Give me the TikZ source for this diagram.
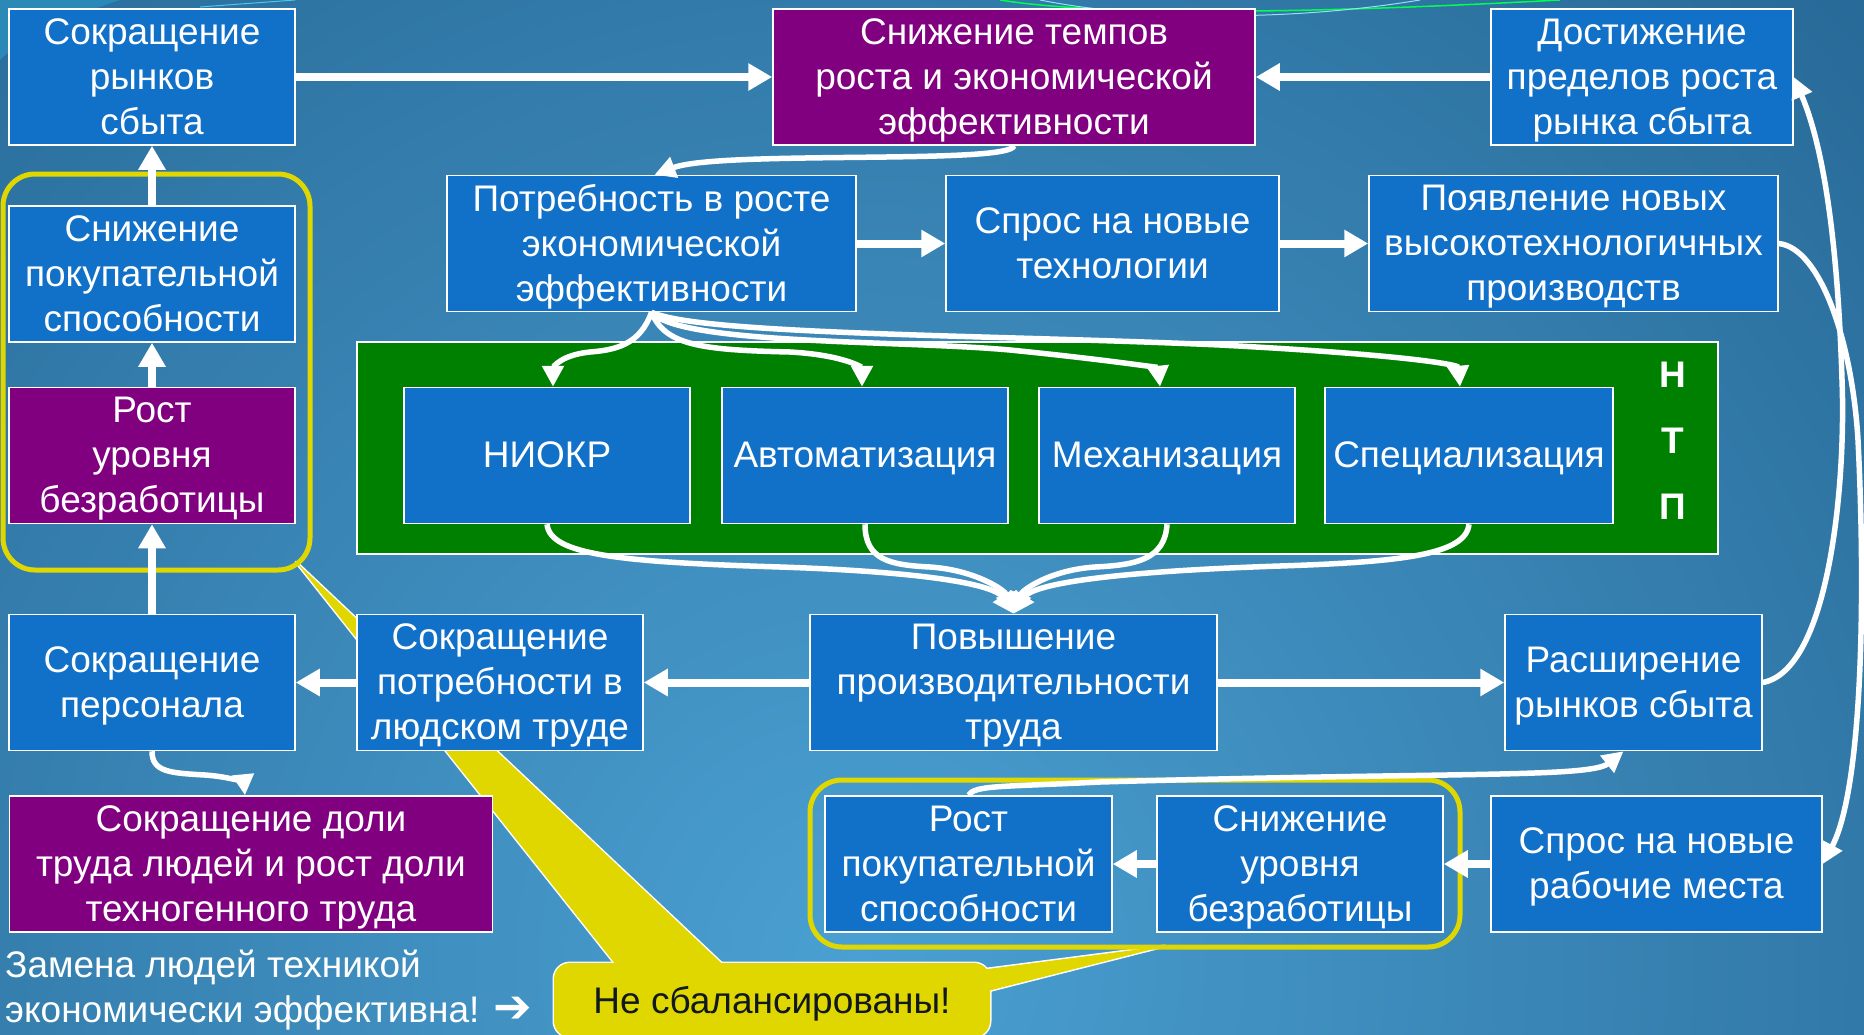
\documentclass[tikz,border=0pt]{standalone}
\usepackage{fontspec}
\setmainfont{Liberation Sans}
\newfontfamily\arrowfont{DejaVu Sans}
\usetikzlibrary{arrows.meta,positioning}

\definecolor{boxblue}{RGB}{17,112,199}
\definecolor{boxpurple}{RGB}{128,0,128}
\definecolor{ntpgreen}{RGB}{0,128,0}
\definecolor{markyellow}{RGB}{224,215,0}
\definecolor{bgdark}{RGB}{22,78,122}
\definecolor{bglight}{RGB}{74,160,210}
\definecolor{calltext}{RGB}{16,24,32}
\newcommand{\boxfont}{\fontsize{37}{45}\selectfont}

\begin{document}
\begin{tikzpicture}[x=1pt, y=-1pt,
    blue-box/.style={draw=white, line width=1.5pt, fill=boxblue, text=white, align=center,
      inner sep=0pt, minimum height=136pt, font=\boxfont, text depth=1pt},
    purple-box/.style={blue-box, fill=boxpurple},
    thick-arr/.style={draw=white, line width=8pt, -{Triangle[length=24pt,width=26pt]}},
    curve-arr/.style={draw=white, line width=5.5pt, -{Triangle[length=21pt,width=21pt]}},
    yel-frame/.style={draw=markyellow, line width=5pt, rounded corners=32pt}
  ]

\useasboundingbox (0,0) rectangle (1864,1034);

% Background
\begin{scope}
  \clip (0,0) rectangle (1864,1034);
  \shade[inner color=bglight, outer color=bgdark] (860,960) circle (2100pt);
  \fill[cyan!60!teal, opacity=0.6] (0,0) -- (120,0) .. controls (60,20) and (20,40) .. (0,60) -- cycle;
  \draw[cyan!70!white, line width=1pt] (200,7) -- (295,0);
  \draw[green!70!cyan, line width=1.5pt] (1000,0) .. controls (1100,16) and (1300,14) .. (1560,0);
  \draw[white!60!cyan, line width=1pt] (1040,0) .. controls (1150,22) and (1300,20) .. (1420,0);
\end{scope}

% Callout "Не сбалансированы!"
\draw[white, line width=3pt, line join=round] (296,562) -- (624,975) -- (734,975) -- cycle;
\draw[white, line width=3pt, line join=round] (980,970) -- (1165,946) -- (980,993) -- cycle;
\node[fill=markyellow, rounded corners=16pt, preaction={draw=white, line width=3pt},
  minimum width=436pt, minimum height=74pt, inner sep=0pt, text=calltext, font=\boxfont]
  (nebal) at (772,1000) {\rule[-7pt]{0pt}{42pt}Не сбалансированы!};
\fill[markyellow] (296,562) -- (624,975) -- (734,975) -- cycle;
\fill[markyellow] (980,970) -- (1165,946) -- (980,993) -- cycle;

% Top row
\node[blue-box, minimum width=286pt] (rynki) at (152,77) {Сокращение\\рынков\\сбыта};
\node[purple-box, minimum width=482pt] (tempy) at (1014,77) {Снижение темпов\\роста и экономической\\эффективности};
\node[blue-box, minimum width=302pt] (predel) at (1642,77) {Достижение\\пределов роста\\рынка сбыта};

% Second row
\node[blue-box, minimum width=409pt] (potreb) at (651.5,243.5) {Потребность в росте\\экономической\\эффективности};
\node[blue-box, minimum width=333pt] (sprosteh) at (1112.5,243.5) {Спрос на новые\\технологии};
\node[blue-box, minimum width=409pt] (poyavl) at (1573.5,243.5) {Появление новых\\высокотехнологичных\\производств};

% NTP panel
\node[draw=white, line width=1.5pt, fill=ntpgreen, minimum width=1361pt, minimum height=212pt] (ntp) at (1037.5,448) {};
\node[blue-box, minimum width=286pt] (niokr) at (547,455.5) {НИОКР};
\node[blue-box, minimum width=286pt] (avtom) at (865,455.5) {Автоматизация};
\node[blue-box, minimum width=256pt] (mehan) at (1167,455.5) {Механизация};
\node[blue-box, minimum width=288pt] (spec) at (1469,455.5) {Специализация};
\foreach \l [count=\i] in {Н,Т,П}
  \node[text=white, font=\boxfont\bfseries] (ntp-\i) at (1673,309+66*\i) {\l};

% Left column
\node[blue-box, minimum width=286pt] (pokup) at (152,274) {Снижение\\покупательной\\способности};
\node[purple-box, minimum width=286pt] (bezrab) at (152,455.5) {Рост\\уровня\\безработицы};

% Third row
\node[blue-box, minimum width=286pt] (personal) at (152,682.5) {Сокращение\\персонала};
\node[blue-box, minimum width=286pt] (trud) at (500,682.5) {Сокращение\\потребности в\\людском труде};
\node[blue-box, minimum width=407pt] (proizv) at (1013.5,682.5) {Повышение\\производительности\\труда};
\node[blue-box, minimum width=257pt] (rassh) at (1633.5,682.5) {Расширение\\рынков сбыта};

% Bottom row
\node[purple-box, minimum width=483pt] (dolya) at (251,864) {Сокращение доли\\труда людей и рост доли\\техногенного труда};
\node[blue-box, minimum width=287pt] (rostpok) at (968.5,864) {Рост\\покупательной\\способности};
\node[blue-box, minimum width=286pt] (snbez) at (1300,864) {Снижение\\уровня\\безработицы};
\node[blue-box, minimum width=331pt] (mesta) at (1656.5,864) {Спрос на новые\\рабочие места};

% Yellow frames
\draw[yel-frame] (3,174) rectangle (310,570);
\draw[yel-frame] (810,780) rectangle (1460,947);

% Straight arrows
\draw[thick-arr] (rynki.east) -- (tempy.west);
\draw[thick-arr] (predel.west) -- (tempy.east);
\draw[thick-arr] (potreb.east) -- (sprosteh.west);
\draw[thick-arr] (sprosteh.east) -- (poyavl.west);
\draw[thick-arr] (proizv.west) -- (trud.east);
\draw[thick-arr] (trud.west) -- (personal.east);
\draw[thick-arr] (proizv.east) -- (rassh.west);
\draw[thick-arr] (personal.north) -- (bezrab.south);
\draw[thick-arr] (bezrab.north) -- (pokup.south);
\draw[thick-arr] (pokup.north) -- (rynki.south);
\draw[thick-arr] (mesta.west) -- (snbez.east);
\draw[thick-arr] (snbez.west) -- (rostpok.east);

% Curved arrows
\draw[curve-arr] (tempy.south) .. controls (1010,165) and (720,150) .. ([xshift=3pt]potreb.north);
\draw[curve-arr] (potreb.south) .. controls (640,345) and (615,350) .. (590,352)
  .. controls (560,355) and (553,368) .. ([xshift=6pt]niokr.north);
\draw[curve-arr] (potreb.south) .. controls (665,345) and (700,350) .. (790,352)
  .. controls (845,355) and (862,368) .. ([xshift=-3pt]avtom.north);
\draw[curve-arr] (potreb.south) .. controls (680,345) and (900,340) .. (1010,350)
  .. controls (1110,360) and (1158,368) .. ([xshift=-7pt]mehan.north);
\draw[curve-arr] (potreb.south) .. controls (700,335) and (1000,335) .. (1220,345)
  .. controls (1410,355) and (1458,365) .. ([xshift=-9pt]spec.north);
\draw[curve-arr] (niokr.south) .. controls (550,555) and (620,562) .. (780,567)
  .. controls (930,572) and (995,585) .. (proizv.north);
\draw[curve-arr] (avtom.south) .. controls (865,560) and (890,565) .. (930,567)
  .. controls (975,570) and (1005,590) .. (proizv.north);
\draw[curve-arr] (mehan.south) .. controls (1165,560) and (1135,565) .. (1095,567)
  .. controls (1050,570) and (1022,590) .. (proizv.north);
\draw[curve-arr] (spec.south) .. controls (1466,555) and (1400,562) .. (1280,566)
  .. controls (1100,572) and (1032,585) .. (proizv.north);
\draw[curve-arr] (personal.south) .. controls (152,772) and (170,773) .. (205,775)
  .. controls (235,777) and (244,785) .. ([xshift=-6pt]dolya.north);
\draw[curve-arr] (rostpok.north) .. controls (975,785) and (1000,787) .. (1100,782)
  .. controls (1450,772) and (1590,778) .. ([xshift=-10pt]rassh.south);
\draw[curve-arr] (rassh.east) .. controls (1830,670) and (1846,480) .. (1842,380)
  .. controls (1838,250) and (1825,150) .. (predel.east);
\draw[curve-arr] (poyavl.east) .. controls (1820,248) and (1852,340) .. (1858,440)
  .. controls (1866,600) and (1862,790) .. (mesta.east);

% Bottom note
\node[anchor=west, align=left, text=white, font=\boxfont, inner sep=0pt] (zamena) at (5,990)
  {Замена людей техникой\\экономически эффективна! {\arrowfont\bfseries\fontsize{46}{45}\selectfont ➔}};

\end{tikzpicture}
\end{document}
